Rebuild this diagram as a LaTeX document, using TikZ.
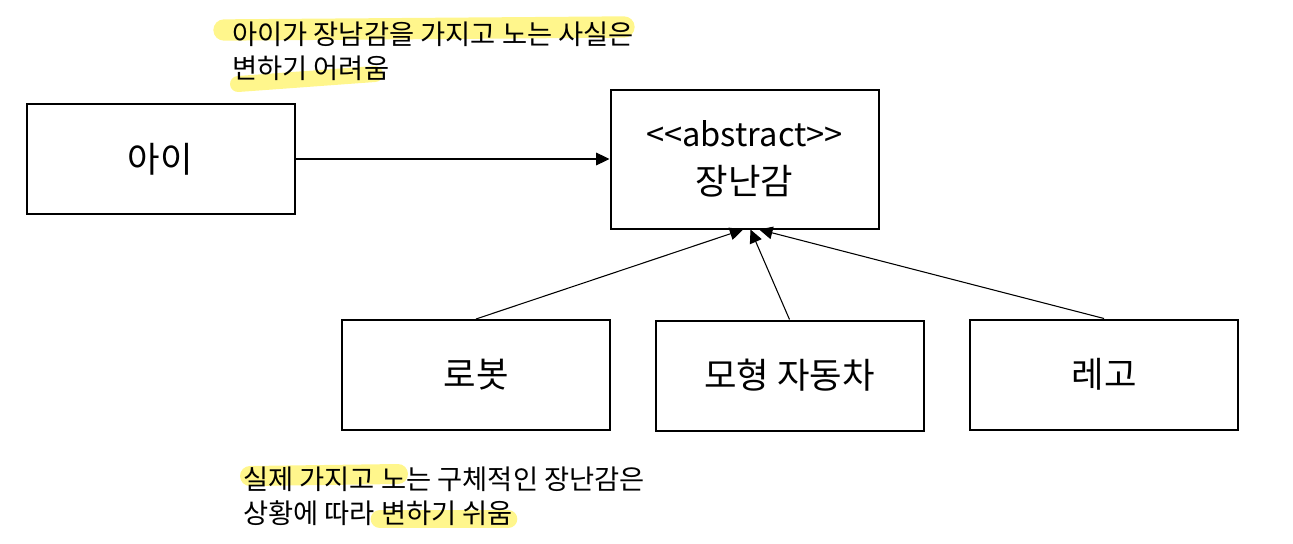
\documentclass[tikz,border=0pt]{standalone}
\usepackage{fontspec}
\setmainfont{Noto Sans CJK KR}
\usetikzlibrary{arrows.meta}
\definecolor{marker}{RGB}{255,246,140}

\begin{document}
\begin{tikzpicture}[x=0.75pt, y=-0.75pt,
    box/.style={draw, line width=1.5pt, minimum width=201pt, minimum height=82.5pt, inner sep=0pt, font=\fontsize{26.5}{30}\selectfont},
    note/.style={anchor=base west, align=left, inner sep=0pt, font=\fontsize{20.5}{25.5}\selectfont},
    hilite/.style={marker, line cap=round},
    link/.style={line width=0.8pt, -{Triangle[length=10pt, width=9.5pt]}}]
    \useasboundingbox (0,0) rectangle (1293,543);

    % Highlights
    \draw[hilite, line width=16pt] (224,30) -- (624,27);
    \draw[hilite, line width=12pt] (238,84) -- (375,74);
    \draw[hilite, line width=15pt] (250,476) -- (398,474);
    \draw[hilite, line width=14pt] (380,519) -- (508,519);

    % Notes (anchored at the baseline of the last line)
    \node[note] (noteTop) at (232,78) {아이가 장남감을 가지고 노는 사실은\\변하기 어려움};
    \node[note] (noteBot) at (243,523) {실제 가지고 노는 구체적인 장난감은\\상황에 따라 변하기 쉬움};

    % Boxes
    \node[box] (kid) at (160.5,159) {아이};
    \node[box, minimum height=104.25pt, align=center] (toy) at (744.5,159)
        {{\fontsize{24.5}{26}\selectfont <\kern0pt<abstract>\kern0pt>}\\[6pt]장난감};
    \node[box] (robot) at (476,375) {로봇};
    \node[box] (car) at (789.5,375.5) {모형 자동차};
    \node[box] (lego) at (1104,374.5) {레고};

    % Arrows
    \coordinate (tipR) at ([xshift=-1pt]toy.south);
    \coordinate (tipC) at ([xshift=4.5pt]toy.south);
    \coordinate (tipL) at ([xshift=11pt]toy.south);
    \draw[link] (kid.east) -- (toy.west);
    \draw[link] (robot.north) -- (tipR);
    \draw[link] (car.north) -- (tipC);
    \draw[link] (lego.north) -- (tipL);
\end{tikzpicture}
\end{document}
